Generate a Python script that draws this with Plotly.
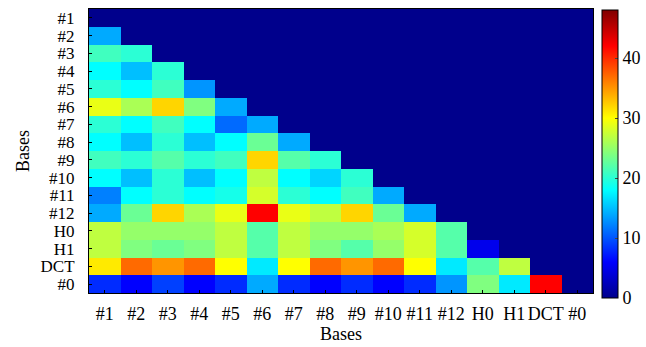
import plotly.graph_objects as go

labels = ["#1", "#2", "#3", "#4", "#5", "#6", "#7", "#8", "#9", "#10",
          "#11", "#12", "H0", "H1", "DCT", "#0"]

# lower-triangular values, row by row (row i has i entries before the diagonal)
row_1 = []
row_2 = [14]
row_3 = [21, 20]
row_4 = [18, 15, 20]
row_5 = [20, 18, 21, 13]
row_6 = [29, 26, 32, 24, 14]
row_7 = [20, 18, 21, 18, 11, 14]
row_8 = [18, 15, 20, 15, 18, 23, 14]
row_9 = [21, 20, 22, 20, 21, 32, 22, 20]
row_10 = [18, 15, 20, 15, 18, 27, 18, 16, 20]
row_11 = [12, 18, 20, 18, 19, 28, 20, 18, 21, 14]
row_12 = [14, 23, 32, 26, 29, 42, 29, 27, 32, 23, 14]
row_H0 = [27, 25, 25, 25, 27, 22, 27, 25, 25, 26, 28, 22]
row_H1 = [27, 24, 23, 24, 27, 22, 27, 24, 22, 25, 28, 22, 5]
row_DCT = [31, 37, 35, 37, 30, 17, 30, 37, 35, 37, 30, 17, 22, 27]
row_0 = [8, 6, 9, 6, 8, 14, 8, 6, 8, 6, 8, 13, 24, 17, 42]

cbar_ticks = [0, 10, 20, 30, 40]

rows = [row_1, row_2, row_3, row_4, row_5, row_6, row_7, row_8, row_9, row_10,
        row_11, row_12, row_H0, row_H1, row_DCT, row_0]
n = len(labels)
z = [r + [0] * (n - len(r)) for r in rows]

jet = [[0.0, "rgb(0,0,140)"], [0.125, "rgb(0,0,255)"], [0.375, "rgb(0,255,255)"],
       [0.625, "rgb(255,255,0)"], [0.875, "rgb(255,0,0)"], [1.0, "rgb(128,0,0)"]]

font_family = "Liberation Serif, Times New Roman, serif"

fig = go.Figure(go.Heatmap(
    z=z, x=labels, y=labels, colorscale=jet, zmin=0, zmax=48,
    colorbar=dict(
        thickness=16, lenmode="pixels", len=288, x=1.018, xanchor="left",
        y=0.489, yanchor="middle", xpad=0, ypad=0,
        tickvals=cbar_ticks, ticks="inside", ticklen=3,
        outlinecolor="black", outlinewidth=1,
        tickfont=dict(family=font_family, size=18, color="black"),
    ),
))

fig.update_layout(
    width=646, height=347,
    margin=dict(l=89, r=53, t=9, b=54, autoexpand=False),
    paper_bgcolor="white", plot_bgcolor="white",
    font=dict(family=font_family, size=18, color="black"),
    xaxis=dict(title=dict(text="Bases", font=dict(size=18), standoff=4),
               tickmode="array", tickvals=labels, ticktext=labels,
               ticks="inside", ticklen=3, tickcolor="black",
               showline=True, linecolor="black", mirror=True,
               tickfont=dict(size=18), tickangle=0, ticklabelstandoff=4),
    yaxis=dict(title=dict(text="Bases", font=dict(size=18), standoff=6),
               autorange="reversed",
               tickmode="array", tickvals=labels, ticktext=labels,
               ticks="inside", ticklen=3, tickcolor="black",
               showline=True, linecolor="black", mirror=True,
               tickfont=dict(size=17), ticklabelstandoff=10),
)

fig.write_html(
    "out.html",
    config={"displayModeBar": False},
    post_script="document.body.style.margin='0';document.body.style.overflow='hidden';",
)
